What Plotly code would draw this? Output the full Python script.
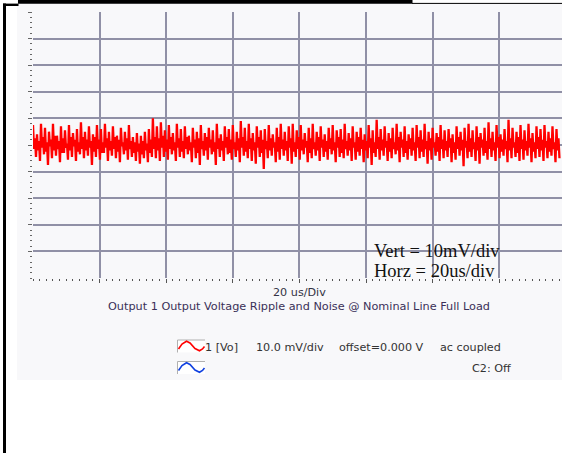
import plotly.graph_objects as go

# ---------------- data ----------------
TIME_STEP_US = 0.3          # sample interval of the trace (us)
VERT_MV_PER_DIV = 10
HORZ_US_PER_DIV = 20

# Output ripple & noise samples (mV), 4 samples per ripple cycle
ripple_mv = [
    7.5, -1.5, 2.5, -4.5,  4.0, -2.0, 1.5, -6.0,  8.0, -1.0, 3.0, -3.5,  6.5, -2.5, 1.0, -7.5,
    5.0, -0.5, 2.0, -5.0,  8.0, -2.0, 3.5, -4.0,  3.5, -1.5, 1.5, -6.5,  7.0, -3.0, 2.5, -3.0,
    5.5, -1.0, 0.5, -5.5,  7.5, -2.0, 3.0, -4.5,  4.5, -0.5, 2.0, -6.0,  6.0, -2.5, 1.0, -3.5,
    8.5, -1.5, 3.0, -5.0,  5.0, -2.0, 2.0, -4.0,  7.0, -1.0, 1.5, -7.5,  4.0, -2.5, 3.0, -4.5,
    7.5, -1.5, 2.0, -5.5,  6.0, -3.0, 1.0, -3.0,  8.0, -1.0, 2.5, -6.0,  5.0, -2.0, 1.5, -4.0,
    7.0, -1.5, 3.0, -5.0,  3.5, -2.5, 2.0, -6.5,  6.5, -0.5, 1.0, -3.5,  5.0, -2.0, 2.5, -5.5,
    7.5, -1.5, 1.5, -4.5,  3.0, -3.0, 1.0, -6.0,  4.5, -2.5, 0.5, -7.0,  3.5, -3.5, 1.5, -5.0,
    5.0, -2.0, 0.5, -6.5,  6.0, -3.0, 2.0, -4.5, 10.0, -1.5, 3.0, -5.0,  7.0, -2.0, 2.5, -6.0,
    8.5, -1.0, 3.5, -4.5,  5.5, -2.5, 2.0, -5.5,  7.5, -1.5, 3.0, -3.5,  4.5, -2.0, 1.0, -6.0,
    8.0, -1.0, 2.5, -4.5,  6.0, -2.5, 1.5, -5.0,  7.0, -1.5, 3.0, -3.5,  3.5, -2.0, 1.0, -6.5,
    6.5, -1.0, 2.0, -5.0,  5.0, -3.0, 2.5, -7.5,  7.5, -1.5, 1.5, -4.0,  4.5, -2.0, 3.0, -5.5,
    6.5, -1.0, 2.0, -3.5,  5.5, -2.5, 1.0, -7.5,  8.0, -1.5, 2.5, -4.5,  4.0, -2.0, 1.5, -6.0,
    7.0, -1.0, 3.0, -3.5,  6.0, -3.0, 2.0, -5.5,  7.5, -1.5, 1.0, -4.5,  5.0, -2.0, 2.5, -6.5,
    9.0, -1.0, 3.0, -4.0,  6.5, -2.5, 1.5, -5.0,  8.0, -1.5, 2.5, -6.0,  4.5, -2.0, 1.0, -7.0,
    7.0, -1.0, 3.0, -4.5,  5.5, -3.0, 2.0, -9.0,  6.0, -1.5, 1.5, -5.0,  7.5, -2.0, 2.5, -4.0,
    4.0, -1.0, 1.0, -6.5,  6.5, -2.5, 3.0, -5.5,  8.0, -1.5, 2.0, -4.0,  5.0, -2.0, 1.5, -6.0,
    7.0, -1.0, 2.5, -7.0,  8.0, -2.5, 1.0, -4.5,  5.5, -1.5, 3.0, -5.5,  7.5, -2.0, 2.0, -3.5,
    4.5, -1.0, 1.5, -6.5,  6.5, -3.0, 2.5, -5.0,  8.0, -1.5, 1.0, -4.0,  5.0, -2.0, 3.0, -6.0,
    7.0, -1.0, 2.0, -4.5,  4.0, -2.5, 1.5, -5.5,  6.5, -1.5, 2.5, -3.5,  7.5, -2.0, 1.0, -6.5,
    5.5, -1.0, 3.0, -4.5,  6.0, -3.0, 2.0, -5.0,  8.0, -1.5, 1.5, -4.0,  4.5, -2.0, 2.5, -6.0,
    7.0, -1.0, 1.0, -5.5,  5.0, -2.5, 3.0, -4.0,  6.5, -1.5, 2.0, -6.5,  4.0, -2.0, 1.5, -5.0,
    7.5, -1.0, 2.5, -7.5,  5.5, -3.0, 1.0, -4.5,  9.5, -1.5, 3.0, -5.5,  6.0, -2.0, 2.0, -4.0,
    7.0, -1.0, 1.5, -6.0,  4.5, -2.5, 2.5, -5.0,  6.5, -1.5, 1.0, -3.5,  8.0, -2.0, 3.0, -6.5,
    5.0, -1.0, 2.0, -4.5,  7.0, -3.0, 1.5, -5.5,  4.0, -1.5, 2.5, -4.0,  6.5, -2.0, 1.0, -6.0,
    7.5, -1.0, 3.0, -5.0,  5.5, -2.5, 2.0, -4.5,  8.0, -1.5, 1.5, -7.0,  5.0, -2.0, 2.5, -5.5,
    6.5, -1.0, 1.0, -4.0,  4.5, -2.5, 3.0, -6.0,  7.5, -1.5, 2.0, -5.0,  5.5, -2.0, 1.5, -4.5,
    6.0, -1.0, 2.5, -6.5,  4.0, -3.0, 1.0, -5.5,  7.0, -1.5, 3.0, -4.0,  5.0, -2.0, 2.0, -8.0,
    6.5, -1.0, 1.5, -5.0,  8.0, -2.5, 2.5, -4.5,  5.5, -1.5, 1.0, -6.0,  7.0, -2.0, 3.0, -7.0,
    4.5, -1.0, 2.0, -4.0,  6.5, -3.0, 1.5, -5.5,  8.5, -1.5, 2.5, -4.5,  5.0, -2.0, 1.0, -6.0,
    7.5, -1.0, 3.0, -5.0,  4.0, -2.5, 2.0, -4.0,  6.0, -1.5, 1.5, -6.5,  9.5, -2.0, 2.5, -5.0,
    6.5, -1.0, 1.0, -4.5,  5.0, -3.0, 3.0, -6.0,  7.5, -1.5, 2.0, -5.5,  5.5, -2.0, 1.5, -4.0,
    8.0, -1.0, 2.5, -6.5,  4.5, -2.5, 1.0, -5.0,  7.0, -1.5, 3.0, -4.5,  6.0, -2.0, 2.0, -6.0,
    7.5, -1.0, 1.5, -5.0,  5.0, -2.5, 2.5, -4.0,  7.0, -1.5, 1.0, -6.5,  6.0, -2.0, 2.5, -5.0,
]
time_us = [i * TIME_STEP_US for i in range(len(ripple_mv))]

x_label = "20 us/Div"
chart_title = "Output 1 Output Voltage Ripple and Noise @ Nominal Line Full Load"
note_lines = ["Vert = 10mV/div", "Horz = 20us/div"]
ch1_items = ["1 [Vo]", "10.0 mV/div", "offset=0.000 V", "ac coupled"]
ch2_text = "C2: Off"

# ---------------- layout geometry ----------------
W, H = 562, 453
ML, MR, MT, MB = 33, 0, 12, 175
PW, PH = W - ML - MR, H - MT - MB
PX_PER_DIV_X = 66.6

def px(x):
    return (x - ML) / PW

def py(y):
    return (H - MB - y) / PH

fig = go.Figure()
fig.add_trace(go.Scatter(
    x=time_us, y=ripple_mv, mode="lines",
    line=dict(color="#ff0000", width=2.3),
    hoverinfo="skip", showlegend=False,
))

GRID = "#9090a6"
fig.update_xaxes(
    range=[0, PW / PX_PER_DIV_X * HORZ_US_PER_DIV],
    tickvals=[20, 40, 60, 80, 100, 120, 140],
    showticklabels=False, showgrid=True, gridcolor=GRID, gridwidth=1.5,
    zeroline=False, showline=False,
    ticks="outside", ticklen=4, tickcolor="#555", tickwidth=1,
    minor=dict(dtick=2, tick0=0, ticks="outside", ticklen=2, tickcolor="#555", tickwidth=1, showgrid=False),
    fixedrange=True,
)
fig.update_yaxes(
    range=[-5 * VERT_MV_PER_DIV, 5 * VERT_MV_PER_DIV],
    tickvals=[-40, -30, -20, -10, 0, 10, 20, 30, 40, 50],
    showticklabels=False, showgrid=True, gridcolor=GRID, gridwidth=1.5,
    zeroline=False, showline=False,
    ticks="outside", ticklen=4, tickcolor="#666", tickwidth=1,
    minor=dict(dtick=2, tick0=0, ticks="outside", ticklen=2, tickcolor="#666", tickwidth=1, showgrid=False),
    fixedrange=True,
)

BG = "#f8f8fa"
shapes = []
# white regions around the grey scope panel
shapes.append(dict(type="rect", xref="paper", yref="paper", x0=px(0), x1=px(W), y0=py(380), y1=py(H),
                   fillcolor="white", line=dict(width=0), layer="above"))
shapes.append(dict(type="rect", xref="paper", yref="paper", x0=px(0), x1=px(17), y0=py(0), y1=py(H),
                   fillcolor="white", line=dict(width=0), layer="above"))
shapes.append(dict(type="rect", xref="paper", yref="paper", x0=px(412), x1=px(W), y0=py(0), y1=py(3.3),
                   fillcolor="white", line=dict(width=0), layer="above"))
# black frame
shapes.append(dict(type="rect", xref="paper", yref="paper", x0=px(18), x1=px(412.5), y0=py(0), y1=py(3.7),
                   fillcolor="black", line=dict(width=0), layer="above"))
shapes.append(dict(type="rect", xref="paper", yref="paper", x0=px(3), x1=px(18.5), y0=py(3.6), y1=py(6),
                   fillcolor="black", line=dict(width=0), layer="above"))
shapes.append(dict(type="rect", xref="paper", yref="paper", x0=px(3), x1=px(6), y0=py(3.6), y1=py(H),
                   fillcolor="black", line=dict(width=0), layer="above"))
shapes.append(dict(type="line", xref="paper", yref="paper", x0=px(412), x1=px(W), y0=py(3.4), y1=py(3.4),
                   line=dict(color="black", width=1), layer="above"))

# channel icons
def icon(y_top, color):
    out = []
    out.append(dict(type="rect", xref="paper", yref="paper", x0=px(177.5), x1=px(205), y0=py(y_top), y1=py(y_top + 12.5),
                    fillcolor="white", line=dict(width=0), layer="above"))
    out.append(dict(type="path", xref="paper", yref="paper",
                    path=f"M {px(177.5)},{py(y_top+12.5)} L {px(177.5)},{py(y_top)} L {px(205)},{py(y_top)}",
                    line=dict(color="#b0b0b0", width=1), layer="above"))
    pts = [(178.5, y_top + 9), (182, y_top + 4), (186.5, y_top + 1.2), (190, y_top + 3), (195, y_top + 8.5),
           (199.5, y_top + 10.8), (202.5, y_top + 9), (204.5, y_top + 6.5)]
    path = "M " + " L ".join(f"{px(a)},{py(b)}" for a, b in pts)
    out.append(dict(type="path", xref="paper", yref="paper", path=path,
                    line=dict(color=color, width=1.6), layer="above"))
    return out

shapes += icon(340, "#ff0000")
shapes += icon(361.5, "#1040e0")

FONT = "DejaVu Sans"
ann = []
def text(s, x, y, size=11, color="#333333", anchor="left", family=FONT):
    ann.append(dict(text=s, x=px(x), y=py(y), xref="paper", yref="paper", showarrow=False,
                    xanchor=anchor, yanchor="middle", borderpad=0,
                    font=dict(family=family, size=size, color=color)))

text(x_label, 299, 292, anchor="center", color="#333344", size=11.2)
text(chart_title, 298.5, 306.5, anchor="center", color="#3a3058", size=11.25)
text(ch1_items[0], 204, 347.5, size=11.2)
text(ch1_items[1], 255, 347.5, size=11.2)
text(ch1_items[2], 338, 347.5, size=11.2)
text(ch1_items[3], 438.5, 347.5, size=11.2)
text(ch2_text, 470.5, 368, size=11.2)
text(note_lines[0], 372.5, 251.0, size=18.5, color="#111111", family="Liberation Serif")
text(note_lines[1], 372.5, 270.5, size=18.5, color="#111111", family="Liberation Serif")

fig.update_layout(
    width=W, height=H,
    margin=dict(l=ML, r=MR, t=MT, b=MB, pad=0, autoexpand=False),
    paper_bgcolor=BG, plot_bgcolor=BG,
    shapes=shapes, annotations=ann, showlegend=False,
)

fig.write_html("out.html", config={"displayModeBar": False},
               post_script="document.body.style.margin='0';document.body.style.overflow='hidden';")
